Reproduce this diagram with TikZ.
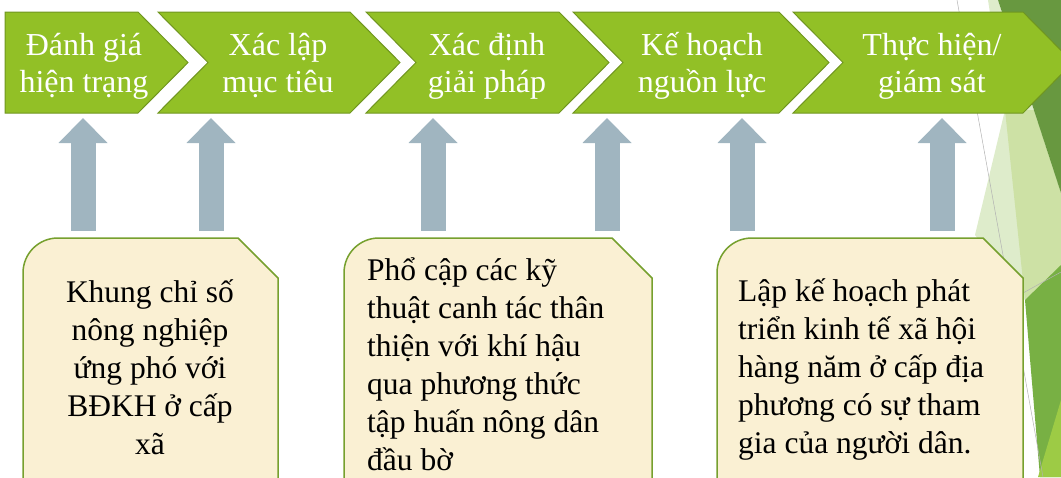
\documentclass[tikz,border=0pt]{standalone}
\usepackage{fontspec}
\setmainfont{Liberation Serif}
\usetikzlibrary{arrows.meta}
\definecolor{chevgreen}{RGB}{146,192,38}
\definecolor{chevline}{RGB}{112,150,32}
\definecolor{arrowblue}{RGB}{160,181,192}
\definecolor{notefill}{RGB}{250,240,211}
\definecolor{noteline}{RGB}{118,160,46}
\definecolor{facetdark}{RGB}{104,152,64}
\definecolor{facetlight}{RGB}{205,225,165}
\definecolor{facetpale}{RGB}{222,236,203}
\definecolor{facetmid}{RGB}{120,176,68}
\definecolor{facetbright}{RGB}{157,203,69}
\tikzstyle{chev} = [fill=chevgreen, draw=chevline, line width=1pt]
\tikzstyle{steptext} = [text=white, align=center, inner sep=0pt, anchor=base, font=\fontsize{32}{37}\selectfont]
\tikzstyle{note} = [fill=notefill, draw=noteline, line width=1.5pt]
\tikzstyle{notetext} = [inner sep=0pt, font=\fontsize{31.5}{38}\selectfont]
\tikzstyle{up} = [draw=arrowblue, line width=25pt, -{Triangle[width=49pt,length=25pt,line width=0pt]}]
\tikzstyle{facetrule} = [draw=black!30, line width=0.5pt]
\begin{document}
\begin{tikzpicture}[x=1pt,y=-1pt]
\useasboundingbox (0,0) rectangle (1061,477);
\clip (0,0) rectangle (1061,477);

% background facets
\fill[facetpale] (988,0) -- (998,0) -- (1061,193) -- (1061,280) -- (1025,300) -- (975,235) -- (1005,110) -- cycle;
\fill[facetlight] (1005,110) -- (1034,110) -- (1061,193) -- (1061,275) -- (1025,300) -- cycle;
\fill[facetdark] (998,0) -- (1061,0) -- (1061,193) -- cycle;
\fill[facetmid] (1025,300) -- (1061,265) -- (1061,477) -- (1040,477) -- cycle;
\fill[facetbright] (1061,400) -- (1061,477) -- (1038,477) -- cycle;
\draw[facetrule] (957,0) -- (1043,477);
\draw[facetrule] (1023,293) -- (1061,272);

% steps (base anchor = last line)
\draw[chev] (5,12) -- (138,12) -- (188,62.5) -- (138,113) -- (5,113) -- cycle;
\foreach \l/\r in {158/350, 366/559, 573/779, 793/1023}
    \draw[chev] (\l,12) -- (\r,12) -- (\r+50,62.5) -- (\r,113) -- (\l,113) -- (\l+50,62.5) -- cycle;

\node[steptext] (s1) at (84,92) {Đánh giá\\hiện trạng};
\node[steptext] (s2) at (278,92) {Xác lập\\mục tiêu};
\node[steptext] (s3) at (487,92) {Xác định\\giải pháp};
\node[steptext] (s4) at (702,92) {Kế hoạch\\nguồn lực};
\node[steptext] (s5) at (932,92) {Thực hiện/\\giám sát};

% notes
\foreach \l/\r in {23/278, 344/652, 717/1023}
    \draw[note] (\l,490) -- (\l,273) .. controls (\l,253.7) and (\l+15.3,238) .. (\l+35,238) -- (\r-40,238) -- (\r,278) -- (\r,490);

\node[notetext, align=center, anchor=base] (n1) at (150,454) {Khung chỉ số\\nông nghiệp\\ứng phó với\\BĐKH ở cấp\\xã};
\node[notetext, align=left, anchor=base west] (n2) at (367,470) {Phổ cập các kỹ\\thuật canh tác thân\\thiện với khí hậu\\qua phương thức\\tập huấn nông dân\\đầu bờ};
\node[notetext, align=left, anchor=base west] (n3) at (738,453) {Lập kế hoạch phát\\triển kinh tế xã hội\\hàng năm ở cấp địa\\phương có sự tham\\gia của người dân.};

% arrows
\foreach \x [count=\i] in {83,211,433,607,742,942} {
    \coordinate (foot\i) at (\x,231);
    \coordinate (tip\i) at (\x,118);
    \draw[up] (foot\i) -- (tip\i);
}

\end{tikzpicture}
\end{document}
